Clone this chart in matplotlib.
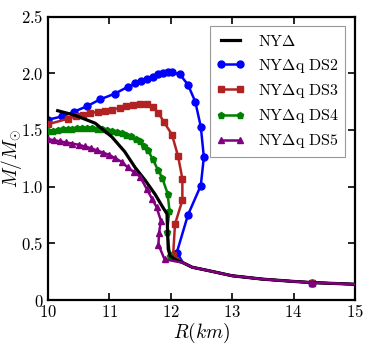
import matplotlib
matplotlib.use("Agg")
import matplotlib.pyplot as plt
from matplotlib.ticker import FuncFormatter, MultipleLocator

plt.rcParams['mathtext.fontset'] = 'cm'
plt.rcParams['font.family'] = ['DejaVu Serif']

# shared low-mass tail (R in km, M in Msun)
tail_R = [12.20, 12.35, 12.60, 13.00, 13.50, 14.00, 14.30, 15.00]
tail_M = [0.330, 0.290, 0.262, 0.215, 0.185, 0.165, 0.155, 0.140]

# NY Delta (no markers)
ny_R = [10.16, 10.44, 10.77, 11.04, 11.25, 11.42, 11.58, 11.75, 11.87, 11.94, 11.95, 11.96, 11.99, 12.08]
ny_M = [1.67, 1.63, 1.56, 1.44, 1.31, 1.17, 1.06, 0.93, 0.82, 0.76, 0.60, 0.45, 0.39, 0.355]

# NY Delta q DS2
ds2_R = [10.00, 10.23, 10.42, 10.64, 10.85, 11.09, 11.30, 11.42, 11.52, 11.62, 11.71, 11.80,
         11.88, 11.95, 12.02, 12.15, 12.28, 12.40, 12.49, 12.54, 12.49, 12.28, 12.10]
ds2_M = [1.59, 1.62, 1.66, 1.71, 1.77, 1.82, 1.88, 1.91, 1.93, 1.95, 1.97, 1.99,
         2.00, 2.01, 2.01, 1.99, 1.90, 1.75, 1.53, 1.26, 1.01, 0.75, 0.42]

# NY Delta q DS3
ds3_R = [10.00, 10.33, 10.45, 10.57, 10.69, 10.81, 10.93, 11.05, 11.17, 11.28, 11.39, 11.50,
         11.61, 11.71, 11.80, 11.89, 12.02, 12.12, 12.19, 12.19, 12.07, 12.04]
ds3_M = [1.55, 1.60, 1.62, 1.635, 1.65, 1.66, 1.67, 1.68, 1.695, 1.71, 1.72, 1.73,
         1.725, 1.70, 1.65, 1.57, 1.46, 1.27, 1.07, 0.88, 0.67, 0.40]

# NY Delta q DS4
ds4_R = [10.00, 10.08, 10.16, 10.24, 10.32, 10.40, 10.48, 10.56, 10.64, 10.72, 10.80, 10.88,
         10.96, 11.04, 11.12, 11.20, 11.28, 11.36, 11.43, 11.50, 11.57, 11.63, 11.71, 11.79,
         11.86, 11.95, 11.98, 11.94, 11.99]
ds4_M = [1.49, 1.495, 1.50, 1.505, 1.51, 1.51, 1.515, 1.515, 1.515, 1.515, 1.51, 1.51,
         1.50, 1.495, 1.485, 1.475, 1.46, 1.445, 1.42, 1.40, 1.36, 1.32, 1.24, 1.15,
         1.08, 0.94, 0.79, 0.60, 0.39]

# NY Delta q DS5
ds5_R = [10.00, 10.10, 10.20, 10.30, 10.40, 10.50, 10.60, 10.70, 10.80, 10.90, 11.00, 11.10,
         11.20, 11.30, 11.40, 11.50, 11.61, 11.70, 11.77, 11.84, 11.81, 11.80, 11.90]
ds5_M = [1.42, 1.41, 1.40, 1.39, 1.38, 1.37, 1.355, 1.34, 1.32, 1.30, 1.28, 1.25,
         1.22, 1.17, 1.13, 1.09, 0.98, 0.89, 0.82, 0.70, 0.59, 0.49, 0.36]

labels = [r'$\mathrm{NY\Delta}$', r'$\mathrm{NY\Delta q\ DS2}$', r'$\mathrm{NY\Delta q\ DS3}$',
          r'$\mathrm{NY\Delta q\ DS4}$', r'$\mathrm{NY\Delta q\ DS5}$']

fig = plt.figure(figsize=(3.74, 3.45), dpi=100)
ax = fig.add_axes([0.128, 0.130, 0.821, 0.822])

def series(ax, R, M, color, marker, ms, label, z):
    x = list(R) + tail_R
    y = list(M) + tail_M
    idx = list(range(len(R))) + [len(R) + tail_R.index(14.30)]
    return ax.plot(x, y, color=color, lw=1.8, marker=marker, ms=ms, markevery=idx,
                   mec=color, label=label, zorder=z)[0]

h2 = series(ax, ds2_R, ds2_M, '#0000ff', 'o', 5.0, labels[1], 2)
h3 = series(ax, ds3_R, ds3_M, '#b22222', 's', 5.0, labels[2], 3)
h4 = series(ax, ds4_R, ds4_M, '#008000', 'p', 4.5, labels[3], 4)
h0, = ax.plot(ny_R + tail_R, ny_M + tail_M, color='black', lw=2.3, label=labels[0], zorder=5)
h5 = series(ax, ds5_R, ds5_M, '#800080', '^', 5.0, labels[4], 6)

ax.set_xlim(10, 15)
ax.set_ylim(0, 2.5)
ax.xaxis.set_major_locator(MultipleLocator(1))
ax.yaxis.set_major_locator(MultipleLocator(0.5))
ax.xaxis.set_major_formatter(FuncFormatter(lambda v, p: r'$%d$' % round(v)))
ax.yaxis.set_major_formatter(FuncFormatter(lambda v, p: r'$0$' if abs(v) < 1e-9 else r'$%.1f$' % v))
ax.tick_params(direction='in', top=True, right=True, length=5, width=1.2, labelsize=12, pad=3)
for s in ax.spines.values():
    s.set_linewidth(1.6)

ax.set_xlabel(r'$R(km)$', fontsize=14, labelpad=0)
ax.set_ylabel(r'$M/M_{\odot}$', fontsize=14, labelpad=-2)

leg = ax.legend(handles=[h0, h2, h3, h4, h5], loc='upper right', fontsize=11.5, numpoints=2,
                fancybox=False, framealpha=1, edgecolor='#999999', handlelength=1.8,
                borderaxespad=0.6, labelspacing=0.45, handletextpad=0.8)
leg.get_frame().set_linewidth(0.8)

fig.savefig('out.png', dpi=100)
